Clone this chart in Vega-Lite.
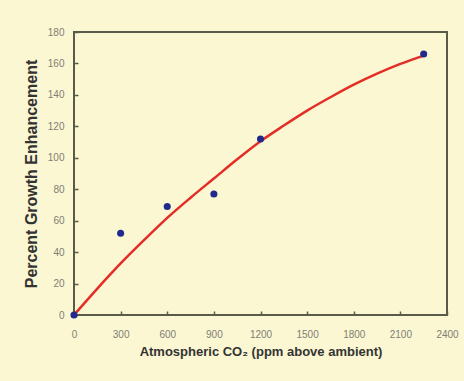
{
  "$schema": "https://vega.github.io/schema/vega-lite/v6.json",
  "width": 373,
  "height": 283,
  "autosize": "none",
  "padding": {"left": 74, "top": 32, "right": 17, "bottom": 66},
  "background": "#fbf7d2",
  "config": {
    "view": {"stroke": "#5a5a48", "strokeWidth": 2, "fill": "#fbf7d2"},
    "font": "Liberation Sans",
    "axis": {
      "grid": false,
      "domain": false,
      "tickColor": "#5a5a48",
      "tickSize": -4,
      "tickWidth": 1.5,
      "labelColor": "#7e7e74",
      "labelFontSize": 10,
      "titleColor": "#333333",
      "titleFontWeight": "bold",
      "titleFontSize": 13
    }
  },
  "datasets": {
    "obs": [
      {"co2": 0, "growth": 0},
      {"co2": 300, "growth": 52},
      {"co2": 600, "growth": 69},
      {"co2": 900, "growth": 77},
      {"co2": 1200, "growth": 112},
      {"co2": 2250, "growth": 166}
    ],
    "fit": [
      {"co2": 0, "growth": 0},
      {"co2": 150, "growth": 16.8},
      {"co2": 300, "growth": 32.8},
      {"co2": 450, "growth": 47.6},
      {"co2": 600, "growth": 61.8},
      {"co2": 750, "growth": 74.6},
      {"co2": 900, "growth": 86.8},
      {"co2": 1050, "growth": 99},
      {"co2": 1200, "growth": 110.5},
      {"co2": 1350, "growth": 120.5},
      {"co2": 1500, "growth": 130},
      {"co2": 1650, "growth": 138.5},
      {"co2": 1800, "growth": 146.5},
      {"co2": 1950, "growth": 153.5},
      {"co2": 2100, "growth": 159.7},
      {"co2": 2250, "growth": 165}
    ]
  },
  "encoding": {
    "x": {
      "field": "co2", "type": "quantitative",
      "scale": {"domain": [0, 2400], "nice": false},
      "axis": {"values": [0, 300, 600, 900, 1200, 1500, 1800, 2100, 2400], "format": "d", "labelOverlap": false, "title": "Atmospheric CO₂ (ppm above ambient)", "labelPadding": 18, "titlePadding": 6, "labelFlush": false}
    },
    "y": {
      "field": "growth", "type": "quantitative",
      "scale": {"domain": [0, 180], "nice": false},
      "axis": {"values": [0, 20, 40, 60, 80, 100, 120, 140, 160, 180], "format": "d", "labelOverlap": false, "title": "Percent Growth Enhancement", "titleFontSize": 16, "labelPadding": 14, "titlePadding": 8, "labelFlush": false}
    }
  },
  "layer": [
    {
      "data": {"name": "fit"},
      "mark": {"type": "line", "color": "#e42d26", "strokeWidth": 2.5, "interpolate": "monotone"}
    },
    {
      "data": {"name": "obs"},
      "mark": {"type": "circle", "color": "#1f2a8c", "size": 50, "opacity": 1}
    }
  ]
}
